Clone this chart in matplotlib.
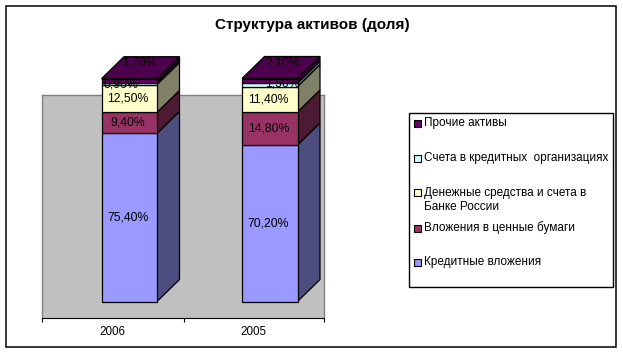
import matplotlib
matplotlib.use("Agg")
import matplotlib.pyplot as plt
from matplotlib.patches import Polygon, Rectangle

years = ["2006", "2005"]
series_names = ["Кредитные вложения", "Вложения в ценные бумаги",
                "Денежные средства и счета в\nБанке России",
                "Счета в кредитных  организациях", "Прочие активы"]
kredit = [75.4, 70.2]
bumagi = [9.4, 14.8]
dengi = [12.5, 11.4]
scheta = [0.9, 1.5]
prochie = [1.7, 2.1]
series = [kredit, bumagi, dengi, scheta, prochie]
labels = [["75,40%", "70,20%"], ["9,40%", "14,80%"], ["12,50%", "11,40%"],
          ["0,90%", "1,50%"], ["1,70%", "2,10%"]]
front = ["#9999FF", "#993366", "#FFFFCC", "#CCFFFF", "#660066"]
side = ["#4D4D80", "#4D1A33", "#808066", "#668080", "#330033"]
top_face = "#4D004D"
legend_y = [262, 228, 192.5, 158, 123]

W, H = 623, 353
plt.rcParams["font.family"] = ["Liberation Sans", "DejaVu Sans"]
fig = plt.figure(figsize=(W / 100, H / 100), dpi=100)
bg = fig.add_axes([0, 0, 1, 1])
bg.set_xlim(0, W); bg.set_ylim(H, 0); bg.axis("off")
bg.add_patch(Rectangle((5.5, 5.5), 610.5, 341.5, fc="white", ec="black", lw=1.1))

L, R, T, B = 41.5, 323.5, 95, 318
ax = fig.add_axes([L / W, 1 - B / H, (R - L) / W, (B - T) / H])
ppx = 140.5
ppy = 2.23
ax.set_xlim((L - 129.25) / ppx, (R - 129.25) / ppx)
ax.set_ylim(-(B - 301.5) / ppy, (301.5 - T) / ppy)
ax.set_facecolor("#C0C0C0")
for s in ["top", "left", "right"]:
    ax.spines[s].set_color("#808080")
    ax.spines[s].set_linewidth(1)
ax.spines["bottom"].set_color("black")
ax.set_yticks([])
ax.set_xticks([(L - 129.25) / ppx, (183.5 - 129.25) / ppx, (R - 129.25) / ppx])
ax.set_xticklabels([])
ax.tick_params(axis="x", length=3.0, width=0.8, color="black")

bw = 55.5 / ppx
dx = 22.5 / ppx
dy = 22 / ppy
for i, year in enumerate(years):
    x0, x1 = i - bw / 2, i + bw / 2
    bottom = 0
    for k, vals in enumerate(series):
        top = bottom + vals[i]
        ax.add_patch(Polygon([(x1, bottom), (x1 + dx, bottom + dy), (x1 + dx, top + dy), (x1, top)],
                             fc=side[k], ec="black", lw=0.9, clip_on=False, zorder=3, joinstyle="miter"))
        ax.add_patch(Rectangle((x0, bottom), bw, vals[i], fc=front[k], ec="black", lw=0.9,
                               clip_on=False, zorder=4))
        bottom = top
    ax.add_patch(Polygon([(x0, bottom), (x0 + dx, bottom + dy), (x1 + dx, bottom + dy), (x1, bottom)],
                         fc=top_face, ec="black", lw=0.9, clip_on=False, zorder=4))
    ax.text(i - 16.5 / ppx, -13.7, year, ha="center", va="center", fontsize=8.4, color="black")
    b = 0
    for k, vals in enumerate(series):
        ym = b + vals[i] / 2
        xt = i - 1.2 / ppx
        yt = ym
        if k == 4:
            xt = i + 10 / ppx + (2.5 / ppx if i else 0)
            yt = b + vals[i] + (78.5 - 62.7) / ppy - 0.0
            yt = (301.5 - 62.7) / ppy
        elif k == 3:
            xt = i + (-8.2 / ppx if i == 0 else 12.5 / ppx)
            yt = (301.5 - (84.3 if i == 0 else 83)) / ppy
        ax.text(xt, yt, labels[k][i], ha="center", va="center", fontsize=8.8,
                color="black", zorder=6, clip_on=False)
        b += vals[i]

bg.text(312, 25.5, "Структура активов (доля)", ha="center", va="center",
        fontsize=11, fontweight="bold", color="black")

lg = fig.add_axes([0, 0, 1, 1], facecolor="none")
lg.set_xlim(0, W); lg.set_ylim(H, 0); lg.axis("off")
lg.add_patch(Rectangle((408.5, 112.5), 204.5, 174, fc="white", ec="black", lw=1.0))
for k, name in enumerate(series_names):
    y = legend_y[k]
    lg.add_patch(Rectangle((413.5, y - 3.5), 7, 7, fc=front[k], ec="black", lw=0.8))
    if "\n" in name:
        lg.text(423.5, y + 7.5, name, ha="left", va="center", fontsize=8.5, linespacing=1.33)
    else:
        lg.text(423.5, y, name, ha="left", va="center", fontsize=8.5)

fig.savefig("out.png", dpi=100, facecolor="white")
